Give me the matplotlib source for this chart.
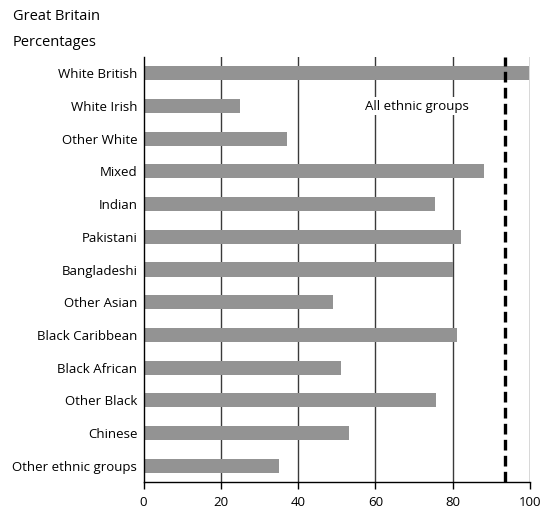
import matplotlib
matplotlib.use('Agg')
from matplotlib import pyplot as plt

plt.rcParams['font.family'] = ['Open Sans', 'DejaVu Sans']

# data
groups = ['White British', 'White Irish', 'Other White', 'Mixed', 'Indian',
          'Pakistani', 'Bangladeshi', 'Other Asian', 'Black Caribbean',
          'Black African', 'Other Black', 'Chinese', 'Other ethnic groups']
values = [99.7, 25, 37, 88, 75.4, 82.1, 80.2, 49, 81.1, 51, 75.7, 53.2, 35]
all_groups = 93.4
xticks = [0, 20, 40, 60, 80, 100]

fig = plt.figure(figsize=(5.55, 5.12), dpi=100)
ax = fig.add_axes([0.2586, 0.0586, 0.6964, 0.830])

pos = list(range(len(groups)))
ax.barh(pos, values, height=0.43, color='#939393', zorder=2)

# vertical grid behind bars
for x in xticks[1:]:
    ax.axvline(x, color='#3a3a3a', lw=1.0, zorder=1)

# overall line
ax.axvline(all_groups, color='black', lw=2.4, ls=(0, (3.2, 1.6)), zorder=3)
ax.text(70.7, 1, 'All ethnic groups', ha='center', va='center', fontsize=9.5,
        color='black', zorder=4,
        bbox=dict(facecolor='white', edgecolor='none', pad=2))

ax.set_xlim(0, 100)
ax.set_ylim(len(groups) - 0.5, -0.5)
ax.set_yticks(pos)
ax.set_yticklabels(groups, fontsize=9.5)
ax.set_xticks(xticks)
ax.set_xticklabels([str(x) for x in xticks], fontsize=9.5)
ax.tick_params(axis='y', length=0, pad=4.5)
ax.tick_params(axis='x', length=5, width=1, pad=5, color='black')

for s in ['top', 'right']:
    ax.spines[s].set_visible(False)
ax.spines['left'].set_linewidth(1.0)
ax.spines['bottom'].set_linewidth(1.0)

fig.text(13 / 555, 1 - 16 / 512, 'Great Britain', ha='left', va='center', fontsize=10.5)
fig.text(13 / 555, 1 - 42 / 512, 'Percentages', ha='left', va='center', fontsize=10.5)

fig.savefig('out.png', dpi=100)
